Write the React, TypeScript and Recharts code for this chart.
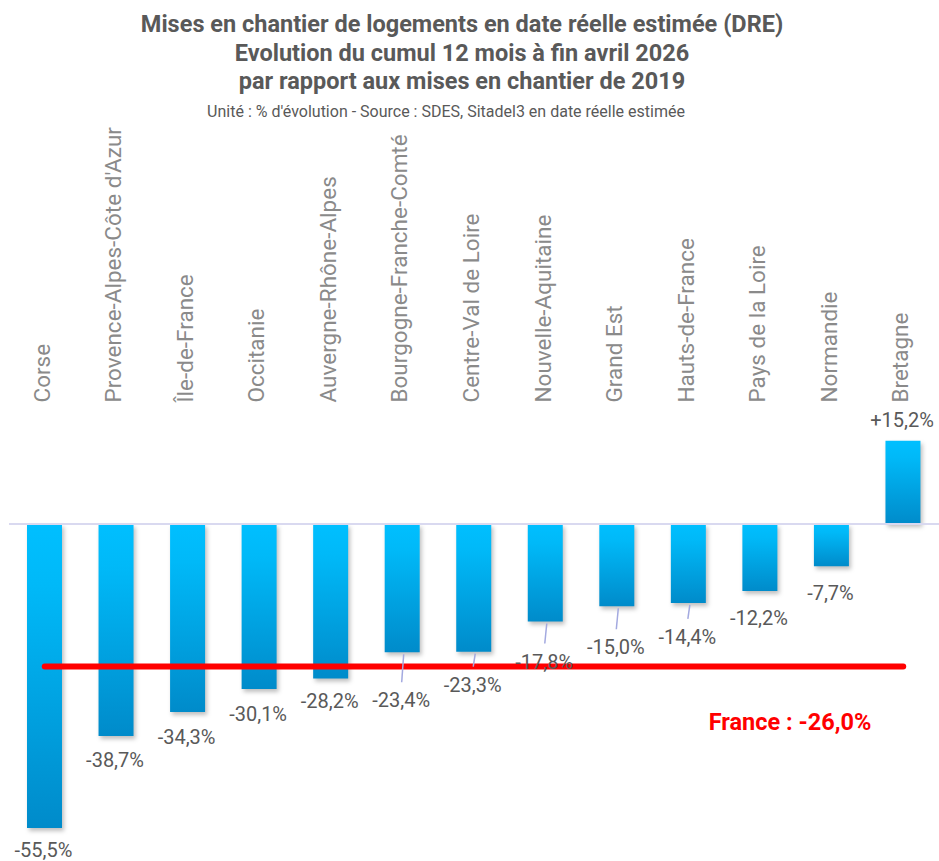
import React from 'react';
import { BarChart, Bar, XAxis, YAxis, ReferenceLine, LabelList } from 'recharts';

const regions = [
  'Corse',
  "Provence-Alpes-Côte d'Azur",
  'Île-de-France',
  'Occitanie',
  'Auvergne-Rhône-Alpes',
  'Bourgogne-Franche-Comté',
  'Centre-Val de Loire',
  'Nouvelle-Aquitaine',
  'Grand Est',
  'Hauts-de-France',
  'Pays de la Loire',
  'Normandie',
  'Bretagne',
];

const evolution = [-55.5, -38.7, -34.3, -30.1, -28.2, -23.4, -23.3, -17.8, -15.0, -14.4, -12.2, -7.7, 15.2];

const franceValue = -26.0;

const titleLines = [
  'Mises en chantier de logements en date réelle estimée (DRE)',
  'Evolution du cumul 12 mois à fin avril 2026',
  'par rapport aux mises en chantier de 2019',
];
const subtitle = "Unité : % d'évolution - Source : SDES, Sitadel3 en date réelle estimée";

// layout: distance of each value label from its bar end, and which labels have a leader line
const labelGap = [22, 24, 25, 25, 22, 48, 33, 40, 41, 34, 27, 27, 21];
const hasLeader = [false, false, false, false, false, true, true, true, true, true, false, false, false];

const data = regions.map((r, i) => ({ region: r, value: evolution[i] }));

const fmt = (v: number) => (v > 0 ? '+' : '') + v.toFixed(1).replace('.', ',') + '%';

const FONT = 'Roboto, "Noto Sans", sans-serif';

const CategoryTick = (props: any) => {
  const { x, y, payload } = props;
  const tx = x - 3;
  const ty = y - 12;
  return (
    <text
      x={tx}
      y={ty}
      transform={`rotate(-90, ${tx}, ${ty})`}
      textAnchor="start"
      dominantBaseline="central"
      fill="#8a8a8a"
      fontSize={22.5}
      fontFamily={FONT}
    >
      {payload.value}
    </text>
  );
};

const ValueLabel = (props: any) => {
  const { x, y, width, height, value, index } = props;
  const cx = x + width / 2;
  const end = value < 0 ? Math.max(y, y + height) : Math.min(y, y + height);
  const gap = labelGap[index];
  const ly = value < 0 ? end + gap : end - gap;
  return (
    <g>
      {hasLeader[index] && (
        <line x1={cx + 1.5} y1={end + 2} x2={cx - 0.5} y2={ly - 18} stroke="#a3a9e0" strokeWidth={1.5} />
      )}
      <text
        x={cx - 1}
        y={ly}
        textAnchor="middle"
        dominantBaseline="central"
        fill="#595959"
        fontSize={20}
        fontFamily={FONT}
      >
        {fmt(value)}
      </text>
    </g>
  );
};

export default function App() {
  return (
    <div style={{ position: 'absolute', left: 0, top: 0, width: 939, height: 861, background: '#fff', fontFamily: FONT }}>
      <style>{`.recharts-bar-rectangle path { filter: drop-shadow(2px 3px 2px rgba(0,0,0,0.25)); }`}</style>
      <div
        style={{
          position: 'absolute',
          left: 0,
          top: 10,
          width: 924,
          textAlign: 'center',
          fontSize: 23.5,
          lineHeight: '28.5px',
          fontWeight: 700,
          color: '#595959',
        }}
      >
        {titleLines.map((t) => (
          <div key={t}>{t}</div>
        ))}
      </div>
      <div
        style={{
          position: 'absolute',
          left: 0,
          top: 102,
          width: 892,
          textAlign: 'center',
          fontSize: 16,
          lineHeight: '20px',
          color: '#595959',
        }}
      >
        {subtitle}
      </div>
      <div style={{ position: 'absolute', left: 0, top: 0 }}>
        <BarChart width={939} height={861} data={data} margin={{ top: 114.5, right: 0, bottom: 8.3, left: 9 }}>
          <defs>
            <linearGradient id="barGrad" x1="0" y1="0" x2="0" y2="1">
              <stop offset="0%" stopColor="#00BFFF" />
              <stop offset="20%" stopColor="#00B9F8" />
              <stop offset="100%" stopColor="#008BCA" />
            </linearGradient>
          </defs>
          <XAxis
            dataKey="region"
            orientation="top"
            height={300}
            axisLine={false}
            tickLine={false}
            tickSize={0}
            tickMargin={0}
            interval={0}
            tick={<CategoryTick />}
          />
          <YAxis hide domain={[-60, 20]} type="number" allowDataOverflow />
          <Bar dataKey="value" fill="url(#barGrad)" barSize={35} isAnimationActive={false}>
            <LabelList dataKey="value" content={<ValueLabel />} />
          </Bar>
          <ReferenceLine y={0} stroke="#d9d9f0" strokeWidth={2} />
          <ReferenceLine
            segment={[
              { x: regions[0], y: franceValue },
              { x: regions[regions.length - 1], y: franceValue },
            ]}
            stroke="#FF0000"
            strokeWidth={6}
            strokeLinecap="round"
          />
        </BarChart>
      </div>
      <div
        style={{
          position: 'absolute',
          left: 690,
          top: 707,
          width: 200,
          textAlign: 'center',
          fontSize: 23.5,
          lineHeight: '30px',
          fontWeight: 700,
          color: '#FF0000',
        }}
      >
        {'France : ' + fmt(franceValue)}
      </div>
    </div>
  );
}
